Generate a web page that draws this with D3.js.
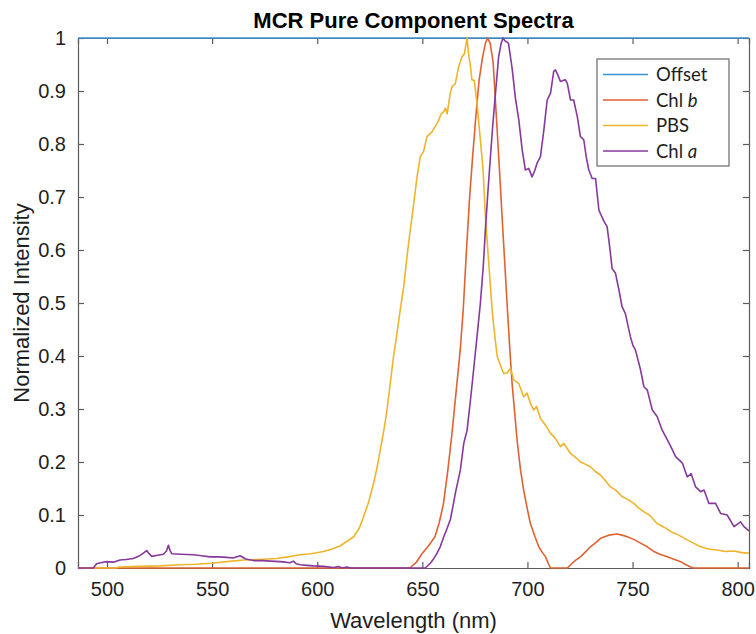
<!DOCTYPE html>
<html>
<head>
<meta charset="utf-8">
<script src="https://cdn.jsdelivr.net/npm/d3@7"></script>
<style>
  body { margin: 0; background: #ffffff; }
  svg { display: block; }
</style>
</head>
<body>
<svg id="chart" width="756" height="634"></svg>
<script>
// Wavelength range of the measured spectra (nm)
const nmRange = [486.2, 805.4];

// Axis ticks
const xTicks = [500, 550, 600, 650, 700, 750, 800];
const yTicks = [0, 0.1, 0.2, 0.3, 0.4, 0.5, 0.6, 0.7, 0.8, 0.9, 1];
const yTickLabels = ["0", "0.1", "0.2", "0.3", "0.4", "0.5", "0.6", "0.7", "0.8", "0.9", "1"];

// Legend labels: plain part + italic suffix
const legendPlain = ["Offset", "Chl ", "PBS", "Chl "];
const legendItalic = ["", "b", "", "a"];
const seriesColors = ["#3a92d4", "#df6233", "#efb42c", "#86399a"];

// Offset component (flat)
const offsetNm = [486.2, 805.4];
const offsetVal = [1, 1];

// Chl b component
const chlbNm = [486.2, 644, 647, 650, 653, 656, 658, 660, 662, 664, 666, 668, 669.5, 671, 672.5, 674, 675.7, 677, 678.5, 680, 681, 682.3, 683.7, 685.6, 687, 688.3, 690.3, 691.5, 692.7, 694, 695.1, 696.7, 698.2, 700, 701.4, 703.5, 705.4, 707, 708.6, 710, 711, 719, 721, 723, 725.2, 727.5, 730, 732.5, 734.8, 738.7, 742.7, 745, 747.5, 750.5, 753.8, 757, 760.2, 763, 766.5, 770, 772.9, 775, 777.6, 779, 805.4];
const chlbVal = [0, 0, 0.01, 0.028, 0.042, 0.059, 0.085, 0.12, 0.18, 0.25, 0.33, 0.41, 0.49, 0.6, 0.7, 0.78, 0.864, 0.92, 0.96, 0.99, 1.0, 0.99, 0.953, 0.826, 0.73, 0.638, 0.5, 0.42, 0.348, 0.29, 0.24, 0.185, 0.147, 0.11, 0.084, 0.06, 0.04, 0.03, 0.021, 0.008, 0, 0, 0.008, 0.015, 0.021, 0.03, 0.04, 0.048, 0.056, 0.062, 0.064, 0.062, 0.059, 0.054, 0.047, 0.04, 0.031, 0.026, 0.021, 0.016, 0.012, 0.007, 0.002, 0, 0];

// PBS component
const pbsNm = [486.2, 504, 506, 515, 525, 535, 542, 549.8, 557, 564.9, 572, 580.8, 586, 591.9, 597, 603, 607, 611, 614, 617.3, 620, 622.1, 624.5, 626.8, 628.5, 630, 631.7, 633.2, 634.8, 636.3, 638, 639.5, 641.1, 642.7, 644, 645.1, 646.3, 647.5, 649, 650.6, 652.2, 654.6, 657, 657.8, 659, 660.2, 661, 661.8, 663.3, 664.1, 665.7, 667.3, 668.9, 670, 671.3, 672, 672.9, 673.6, 674.7, 676, 677.6, 678.9, 680, 681.6, 683.2, 684, 685.6, 687.1, 688.7, 690.3, 691.9, 693.5, 695.9, 698.2, 699.8, 701.5, 703, 704.3, 706.2, 708.5, 711, 713, 715.7, 717.3, 720.5, 722.5, 725.2, 727, 730, 732, 734.8, 737, 739.5, 742, 745, 747.5, 750.6, 753, 755.4, 758, 761.7, 765, 768.1, 772, 776, 779, 782.4, 786, 790.3, 794, 798.3, 802, 805.4];
const pbsVal = [0, 0, 0.002, 0.003, 0.004, 0.006, 0.007, 0.009, 0.012, 0.015, 0.016, 0.018, 0.021, 0.025, 0.027, 0.031, 0.036, 0.042, 0.05, 0.059, 0.075, 0.097, 0.125, 0.16, 0.19, 0.223, 0.26, 0.298, 0.35, 0.399, 0.445, 0.487, 0.53, 0.587, 0.63, 0.663, 0.7, 0.738, 0.776, 0.786, 0.814, 0.823, 0.839, 0.845, 0.857, 0.861, 0.868, 0.857, 0.896, 0.908, 0.914, 0.946, 0.965, 0.97, 1.0, 0.97, 0.946, 0.921, 0.92, 0.877, 0.808, 0.751, 0.663, 0.575, 0.487, 0.455, 0.399, 0.383, 0.367, 0.368, 0.377, 0.355, 0.348, 0.323, 0.33, 0.31, 0.298, 0.305, 0.282, 0.27, 0.254, 0.246, 0.229, 0.235, 0.216, 0.21, 0.2, 0.197, 0.191, 0.183, 0.175, 0.165, 0.153, 0.147, 0.135, 0.13, 0.122, 0.113, 0.106, 0.1, 0.084, 0.077, 0.069, 0.062, 0.053, 0.047, 0.04, 0.036, 0.034, 0.031, 0.032, 0.029, 0.028];

// Chl a component
const chlaNm = [486.2, 493.5, 495, 497, 499.8, 503, 506.2, 509, 512.5, 515, 517.3, 518.9, 520, 521.3, 524, 526.8, 528.3, 529.2, 530, 530.8, 535, 541.1, 545, 549, 553, 557, 560, 563.3, 566, 569.7, 574, 577.6, 582.4, 585, 587.1, 588.7, 590, 591.9, 595, 598.3, 603, 607.8, 610, 612, 614, 616, 651.4, 653.8, 655.5, 657, 658.5, 660.2, 661.8, 663.3, 664.5, 665.7, 667, 668.1, 669.7, 671.3, 672.9, 674.4, 676, 677.6, 679, 680, 681.2, 682.4, 683.6, 684.8, 686.3, 687.5, 688.4, 689.2, 690, 691, 692.7, 694.3, 695.9, 697.5, 699, 700.6, 702.2, 703.5, 704.6, 706.2, 707.8, 709.4, 711, 712.5, 713.3, 714.5, 715.7, 717, 718.1, 719, 720.5, 722, 723.7, 725.2, 726.8, 728, 729.2, 730.8, 732.4, 734, 736.4, 737.9, 739, 740.3, 741.9, 743.5, 745, 746.6, 749, 750.2, 751.4, 753.8, 755.4, 757, 759.4, 761.7, 764.1, 766.5, 768.1, 770.5, 773.7, 776, 777.9, 780, 782.4, 784, 786.3, 789.5, 791.9, 795, 798.3, 801.4, 803, 805.4];
const chlaVal = [0, 0, 0.008, 0.01, 0.012, 0.011, 0.015, 0.016, 0.018, 0.022, 0.028, 0.033, 0.027, 0.022, 0.024, 0.026, 0.032, 0.043, 0.033, 0.027, 0.026, 0.025, 0.023, 0.021, 0.021, 0.02, 0.019, 0.023, 0.017, 0.014, 0.014, 0.013, 0.012, 0.011, 0.01, 0.013, 0.008, 0.006, 0.005, 0.004, 0.003, 0.001, 0.003, 0, 0.002, 0, 0, 0.009, 0.018, 0.028, 0.04, 0.059, 0.075, 0.091, 0.115, 0.141, 0.165, 0.185, 0.235, 0.26, 0.317, 0.374, 0.436, 0.499, 0.57, 0.638, 0.71, 0.776, 0.84, 0.896, 0.965, 0.99, 1.0, 0.995, 0.993, 0.99, 0.943, 0.886, 0.845, 0.789, 0.751, 0.754, 0.738, 0.75, 0.764, 0.776, 0.826, 0.883, 0.896, 0.937, 0.94, 0.93, 0.918, 0.92, 0.921, 0.914, 0.883, 0.883, 0.852, 0.814, 0.808, 0.775, 0.751, 0.735, 0.735, 0.675, 0.654, 0.644, 0.61, 0.565, 0.556, 0.525, 0.493, 0.48, 0.436, 0.42, 0.411, 0.374, 0.342, 0.336, 0.298, 0.286, 0.26, 0.242, 0.23, 0.21, 0.198, 0.172, 0.178, 0.153, 0.144, 0.147, 0.122, 0.122, 0.103, 0.1, 0.078, 0.087, 0.078, 0.07];

const series = [
  { nm: offsetNm, val: offsetVal },
  { nm: chlbNm, val: chlbVal },
  { nm: pbsNm, val: pbsVal },
  { nm: chlaNm, val: chlaVal }
];

const svg = d3.select("#chart");
const plot = { left: 78, right: 749, top: 38, bottom: 568 };

const x = d3.scaleLinear().domain(nmRange).range([plot.left, plot.right]);
const y = d3.scaleLinear().domain([0, 1]).range([plot.bottom, plot.top]);

const axisColor = "#5c5c5c";
const textColor = "#1e1e1e";
const tickFont = "Liberation Sans, Arial, Helvetica, sans-serif";

// Bottom axis with inward ticks
const gx = svg.append("g")
  .attr("transform", `translate(0,${plot.bottom})`)
  .call(d3.axisBottom(x).tickValues(xTicks).tickFormat(d3.format("d")).tickSize(-6).tickPadding(14));
// Top axis (ticks only)
const gxt = svg.append("g")
  .attr("transform", `translate(0,${plot.top})`)
  .call(d3.axisTop(x).tickValues(xTicks).tickFormat("").tickSize(-6));
// Left axis
const gy = svg.append("g")
  .attr("transform", `translate(${plot.left},0)`)
  .call(d3.axisLeft(y).tickValues(yTicks).tickFormat((d, i) => yTickLabels[i]).tickSize(-6).tickPadding(12));
// Right axis (ticks only)
const gyr = svg.append("g")
  .attr("transform", `translate(${plot.right},0)`)
  .call(d3.axisRight(y).tickValues(yTicks).tickFormat("").tickSize(-6));

[gx, gxt, gy, gyr].forEach(g => {
  g.select(".domain").attr("stroke", axisColor).attr("stroke-width", 1.2);
  g.selectAll(".tick line").attr("stroke", axisColor).attr("stroke-width", 1.2);
  g.selectAll(".tick text")
    .attr("fill", textColor)
    .style("font-family", tickFont)
    .style("font-size", "20px");
});

// Spectra
const line = d3.line().x(d => x(d[0])).y(d => y(d[1]));
svg.append("g")
  .selectAll("path")
  .data(series)
  .join("path")
  .attr("d", s => line(s.nm.map((n, i) => [n, s.val[i]])))
  .attr("fill", "none")
  .attr("stroke", (s, i) => seriesColors[i])
  .attr("stroke-width", 1.6)
  .attr("stroke-linejoin", "round");

// Title
svg.append("text")
  .attr("x", (plot.left + plot.right) / 2)
  .attr("y", 28)
  .attr("text-anchor", "middle")
  .attr("fill", "#000")
  .style("font-family", tickFont)
  .style("font-weight", "bold")
  .style("font-size", "22px")
  .text("MCR Pure Component Spectra");

// Axis labels
svg.append("text")
  .attr("x", (plot.left + plot.right) / 2)
  .attr("y", 628)
  .attr("text-anchor", "middle")
  .attr("fill", textColor)
  .style("font-family", tickFont)
  .style("font-size", "22px")
  .text("Wavelength (nm)");

svg.append("text")
  .attr("transform", `translate(29,${(plot.top + plot.bottom) / 2}) rotate(-90)`)
  .attr("text-anchor", "middle")
  .attr("fill", textColor)
  .style("font-family", tickFont)
  .style("font-size", "22px")
  .text("Normalized Intensity");

// Legend
const legend = svg.append("g");
legend.append("rect")
  .attr("x", 597).attr("y", 59)
  .attr("width", 132).attr("height", 107)
  .attr("fill", "#fff")
  .attr("stroke", "#6a6a6a")
  .attr("stroke-width", 1.2);

const rowY = [74.5, 100, 125.5, 151];
legendPlain.forEach((label, i) => {
  legend.append("line")
    .attr("x1", 603).attr("x2", 648)
    .attr("y1", rowY[i]).attr("y2", rowY[i])
    .attr("stroke", seriesColors[i])
    .attr("stroke-width", 1.6);
  const t = legend.append("text")
    .attr("x", 656)
    .attr("y", rowY[i] + 6.5)
    .attr("fill", textColor)
    .style("font-family", "Lato, 'Open Sans', sans-serif")
    .style("font-size", "18.5px");
  t.append("tspan").text(label);
  if (legendItalic[i]) {
    t.append("tspan").style("font-style", "italic").text(legendItalic[i]);
  }
});
</script>
</body>
</html>
